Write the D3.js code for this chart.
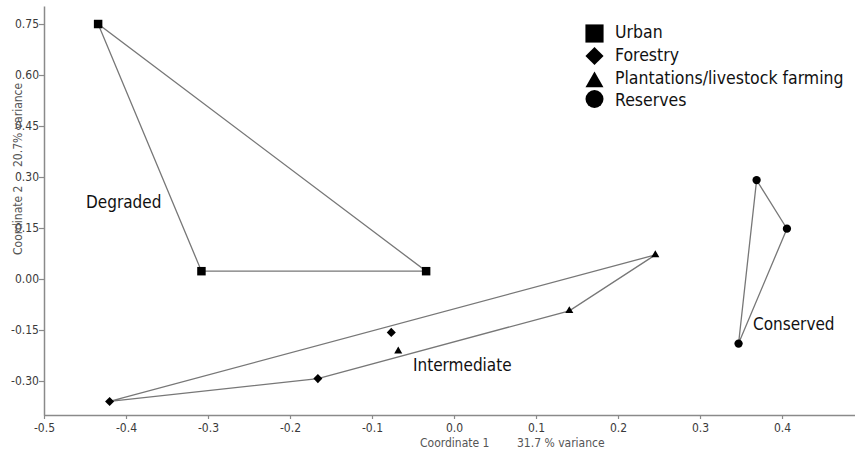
<!DOCTYPE html>
<html>
<head>
<meta charset="utf-8">
<script src="https://cdn.jsdelivr.net/npm/d3@7"></script>
<style>
  body { margin: 0; background: #fff; }
  text { font-family: "DejaVu Sans Condensed", "DejaVu Sans", sans-serif; }
</style>
</head>
<body>
<svg id="chart" width="855" height="452"></svg>
<script>
// Valeurs (coordonnées PCoA)
const groupNames = ["Urban", "Forestry", "Plantations/livestock farming", "Reserves"];
const urbanX = [-0.434, -0.308, -0.034];
const urbanY = [0.750, 0.023, 0.023];
const forestryX = [-0.420, -0.166, -0.0765];
const forestryY = [-0.360, -0.293, -0.157];
const plantationX = [-0.068, 0.1406, 0.2455];
const plantationY = [-0.212, -0.0935, 0.071];
const reserveX = [0.369, 0.406, 0.347];
const reserveY = [0.291, 0.148, -0.190];

// Regroupements (enveloppes) et leurs étiquettes
const hullNames = ["Degraded", "Intermediate", "Conserved"];
const hullMembers = [["Urban"], ["Forestry", "Plantations/livestock farming"], ["Reserves"]];

const xTicks = [-0.5, -0.4, -0.3, -0.2, -0.1, 0.0, 0.1, 0.2, 0.3, 0.4];
const yTicks = [-0.30, -0.15, 0.00, 0.15, 0.30, 0.45, 0.60, 0.75];

const series = {
  "Urban": urbanX.map((x, i) => [x, urbanY[i]]),
  "Forestry": forestryX.map((x, i) => [x, forestryY[i]]),
  "Plantations/livestock farming": plantationX.map((x, i) => [x, plantationY[i]]),
  "Reserves": reserveX.map((x, i) => [x, reserveY[i]])
};

const svg = d3.select("#chart");

// Échelles
const x = d3.scaleLinear().domain([-0.5, 0.489]).range([44, 855]);
const y = d3.scaleLinear().domain([-0.4, 0.803]).range([415, 6]);

// Axes
const xAxis = svg.append("g")
    .attr("transform", "translate(0,415)")
    .call(d3.axisBottom(x).tickValues(xTicks).tickSize(4).tickSizeOuter(0)
      .tickFormat(d => d.toFixed(1)));
const yAxis = svg.append("g")
    .attr("transform", "translate(44,0)")
    .call(d3.axisLeft(y).tickValues(yTicks).tickSize(5).tickSizeOuter(0)
      .tickFormat(d => d.toFixed(2)));

[xAxis, yAxis].forEach(g => {
  g.select(".domain").attr("stroke", "#8a8a8a").attr("stroke-width", 1.5);
  g.selectAll(".tick line").attr("stroke", "#8a8a8a").attr("stroke-width", 1.2);
  g.selectAll(".tick text").attr("fill", "#3a3a3a").style("font-size", "12px");
});
xAxis.selectAll(".tick text").attr("y", 8).attr("dy", "0.75em");
yAxis.selectAll(".tick text").attr("x", -5);

// Titres des axes
svg.append("text").attr("x", 420).attr("y", 447)
    .attr("fill", "#555").style("font-size", "12px").text("Coordinate 1");
svg.append("text").attr("x", 517).attr("y", 447)
    .attr("fill", "#555").style("font-size", "12px").text("31.7 % variance");
svg.append("text").attr("transform", "translate(22,255) rotate(-90)")
    .attr("fill", "#555").style("font-size", "12px").text("Coordinate 2");
svg.append("text").attr("transform", "translate(22,167) rotate(-90)")
    .attr("fill", "#555").style("font-size", "12px").text("20.7% variance");

// Enveloppes convexes
const line = d3.line().x(d => x(d[0])).y(d => y(d[1])).curve(d3.curveLinearClosed);
hullMembers.forEach(members => {
  const pts = members.flatMap(m => series[m]);
  const hull = d3.polygonHull(pts);
  svg.append("path")
      .attr("d", line(hull))
      .attr("fill", "none")
      .attr("stroke", "#777")
      .attr("stroke-width", 1.3);
});

// Étiquettes des groupes
const hullLabelX = [86, 413, 753];
const hullLabelY = [208, 371, 330];
hullNames.forEach((name, i) => {
  svg.append("text").attr("x", hullLabelX[i]).attr("y", hullLabelY[i])
      .attr("fill", "#111").style("font-size", "17px").text(name);
});

// Symboles
const symbolTypes = [d3.symbolSquare, d3.symbolDiamond2, d3.symbolTriangle, d3.symbolCircle];
const markerSizes = [72, 52, 28, 54];
const legendSizes = [330, 210, 140, 254];

groupNames.forEach((name, i) => {
  svg.append("g").selectAll("path")
      .data(series[name])
      .enter().append("path")
      .attr("transform", d => `translate(${x(d[0])},${y(d[1])})`)
      .attr("d", d3.symbol().type(symbolTypes[i]).size(markerSizes[i]))
      .attr("fill", "#000");
});

// Légende
const legendY = [33.5, 56, 82, 99];
const legend = svg.append("g").selectAll("g")
    .data(groupNames)
    .enter().append("g")
    .attr("transform", (d, i) => `translate(594.5,${legendY[i]})`);

legend.append("path")
    .attr("d", (d, i) => d3.symbol().type(symbolTypes[i]).size(legendSizes[i])())
    .attr("fill", "#000");

const legendBase = [38, 61, 84, 106];
legend.append("text")
    .attr("x", 20.5)
    .attr("y", (d, i) => legendBase[i] - legendY[i])
    .attr("fill", "#111")
    .style("font-size", "17.5px")
    .text(d => d);
</script>
</body>
</html>
